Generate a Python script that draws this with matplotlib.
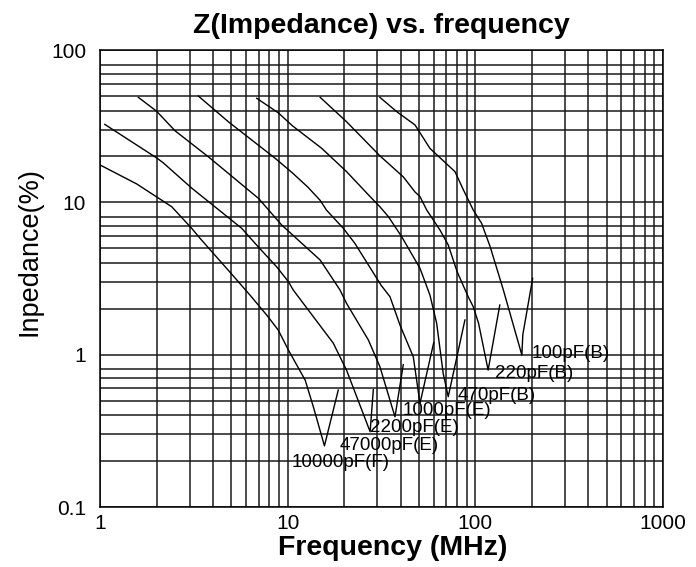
import matplotlib
matplotlib.use("Agg")
import matplotlib.pyplot as plt
from matplotlib.ticker import LogLocator, FixedLocator, FixedFormatter, NullFormatter

plt.rcParams["font.family"] = ["Liberation Sans", "DejaVu Sans"]

# 곡선 데이터 (주파수 MHz, 임피던스)
f_10000F = [1.0, 1.57, 2.41, 3.08, 3.41, 5.03, 6.30, 7.73, 8.91, 10.1, 12.4, 13.7, 15.7, 18.6]
z_10000F = [17.6, 13.2, 9.36, 6.75, 5.81, 3.38, 2.46, 1.82, 1.45, 1.07, 0.68, 0.455, 0.252, 0.586]

f_47000E = [1.06, 2.0, 2.17, 3.08, 5.69, 6.97, 8.74, 10.1, 10.7, 17.5, 20.6, 27.5, 28.6]
z_47000E = [32.5, 19.6, 18.2, 12.4, 6.75, 5.10, 3.77, 3.01, 2.66, 1.19, 0.79, 0.312, 0.59]

f_2200E = [1.60, 2.0, 2.51, 3.78, 7.0, 9.29, 14.9, 19.0, 20.6, 26.9, 31.0, 37.3, 41.3]
z_2200E = [48.9, 39.7, 29.5, 19.9, 10.6, 7.10, 4.18, 2.66, 2.17, 1.25, 0.834, 0.391, 0.86]

f_1000E = [3.34, 4.83, 8.56, 10.6, 12.8, 14.9, 16.1, 19.8, 22.8, 31.5, 35.1, 39.7, 46.7, 50.7, 60.0]
z_1000E = [49.9, 33.8, 19.5, 15.6, 12.6, 10.3, 8.89, 6.75, 5.38, 2.85, 2.40, 1.56, 0.968, 0.479, 1.2]

f_470B = [6.84, 8.91, 10.6, 15.2, 20.6, 27.5, 31.0, 34.4, 40.5, 50.7, 57.3, 62.2, 67.4, 71.7, 88.0]
z_470B = [48.2, 38.7, 31.8, 22.6, 15.9, 10.9, 9.36, 8.06, 5.95, 3.69, 2.46, 1.61, 0.753, 0.530, 1.69]

f_220B = [14.9, 20.6, 31.0, 41.3, 47.7, 50.7, 55.1, 64.8, 71.7, 80.0, 91.6, 97.5, 104, 117, 135]
z_220B = [48.9, 33.8, 20.2, 14.7, 11.7, 10.9, 8.89, 6.58, 5.25, 3.5, 2.40, 2.06, 1.61, 0.792, 2.12]

f_100B = [31.0, 38.1, 47.7, 57.3, 77.9, 86.3, 97.5, 108, 120, 141, 177, 179, 202]
z_100B = [48.9, 39.4, 32.2, 22.6, 15.9, 12.1, 8.89, 7.28, 5.10, 2.66, 0.994, 1.35, 3.17]

curves = [
    (f_10000F, z_10000F), (f_47000E, z_47000E), (f_2200E, z_2200E), (f_1000E, z_1000E),
    (f_470B, z_470B), (f_220B, z_220B), (f_100B, z_100B),
]

# 라벨 위치
label_texts = ["10000pF(F)", "47000pF(E)", "2200pF(E)", "1000pF(E)", "470pF(B)", "220pF(B)", "100pF(B)"]
label_f = [10.5, 19.0, 27.5, 41.1, 80.8, 127, 200]
label_z = [0.197, 0.255, 0.335, 0.427, 0.543, 0.757, 1.02]

x_ticks = [1, 10, 100, 1000]
x_ticklabels = ["1", "10", "100", "1000"]
y_ticks = [0.1, 1, 10, 100]
y_ticklabels = ["0.1", "1", "10", "100"]

fig = plt.figure(figsize=(6.96, 5.67), dpi=100)
ax = fig.add_axes([0.1437, 0.1058, 0.8089, 0.8060])

ax.set_xscale("log")
ax.set_yscale("log")
ax.set_xlim(1, 1000)
ax.set_ylim(0.1, 100)

for f, z in curves:
    ax.plot(f, z, color="black", lw=1.0)

for t, f, z in zip(label_texts, label_f, label_z):
    ax.text(f, z, t, ha="left", va="center", fontsize=13.5)

# 그리드
ax.xaxis.set_major_locator(FixedLocator(x_ticks))
ax.xaxis.set_major_formatter(FixedFormatter(x_ticklabels))
ax.yaxis.set_major_locator(FixedLocator(y_ticks))
ax.yaxis.set_major_formatter(FixedFormatter(y_ticklabels))
ax.xaxis.set_minor_locator(LogLocator(base=10, subs=(2, 3, 4, 5, 6, 7, 8, 9)))
ax.yaxis.set_minor_locator(LogLocator(base=10, subs=(2, 3, 4, 5, 6, 7, 8)))
ax.xaxis.set_minor_formatter(NullFormatter())
ax.yaxis.set_minor_formatter(NullFormatter())
ax.grid(True, which="both", color="#1a1a1a", lw=1.1)
ax.tick_params(which="both", length=0, labelsize=15)
ax.tick_params(axis="x", pad=5)
ax.tick_params(axis="y", pad=10)
for s in ax.spines.values():
    s.set_color("black")
    s.set_linewidth(1.1)

ax.set_title("Z(Impedance) vs. frequency", fontsize=20.5, fontweight="bold", pad=12)
ax.set_xlabel("Frequency (MHz)", fontsize=20.5, fontweight="bold")
ax.xaxis.set_label_coords(0.52, -0.062)
ax.set_ylabel("Inpedance(%)", fontsize=19.5)
ax.yaxis.set_label_coords(-0.103, 0.558)

fig.savefig("out.png", dpi=100)
